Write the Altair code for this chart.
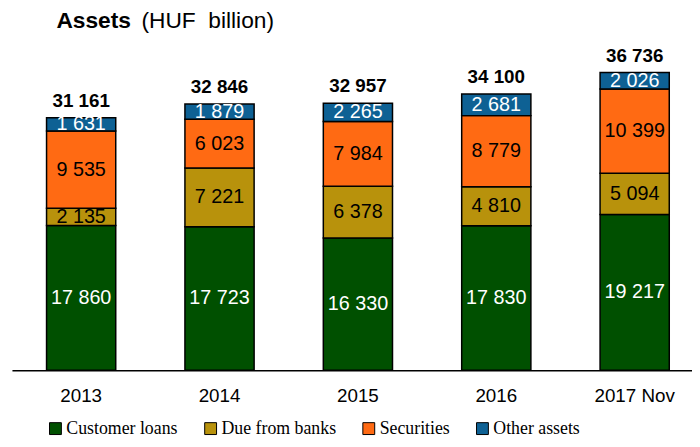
import altair as alt
import pandas as pd

years = ["2013", "2014", "2015", "2016", "2017 Nov"]
categories = ["Customer loans", "Due from banks", "Securities", "Other assets"]
customer_loans = [17860, 17723, 16330, 17830, 19217]
due_from_banks = [2135, 7221, 6378, 4810, 5094]
securities = [9535, 6023, 7984, 8779, 10399]
other_assets = [1631, 1879, 2265, 2681, 2026]
colors = ["#005000", "#B8920C", "#FF6A13", "#0E6194"]

series = [customer_loans, due_from_banks, securities, other_assets]
rows = []
for i, y in enumerate(years):
    for j, c in enumerate(categories):
        rows.append({"year": y, "category": c, "value": series[j][i], "order": j})
df = pd.DataFrame(rows)

xscale = alt.Scale(domain=years, range=[0, 700], paddingInner=0.5, paddingOuter=0.25)
yscale = alt.Scale(domain=[0, 40000], nice=False, zero=True)

base = alt.Chart(df)

bars = base.mark_bar(stroke="black", strokeWidth=1.5).encode(
    x=alt.X("year:N", scale=xscale,
            axis=alt.Axis(title=None, labelAngle=0, ticks=False, domainColor="black",
                          domainWidth=1.5, labelFont="Liberation Sans", labelFontSize=19,
                          labelColor="black", labelPadding=17, grid=False)),
    y=alt.Y("value:Q", stack="zero", scale=yscale, axis=None),
    color=alt.Color("category:N", scale=alt.Scale(domain=categories, range=colors),
                    legend=alt.Legend(title=None, orient="none", legendX=35, legendY=378,
                                      direction="horizontal", symbolType="square",
                                      symbolSize=144, symbolStrokeColor="black",
                                      symbolStrokeWidth=1, symbolOpacity=1,
                                      labelFont="Liberation Serif", labelFontSize=18,
                                      labelColor="black", columnPadding=24, labelOffset=2,
                                      labelLimit=300)),
    order=alt.Order("order:Q"),
)

labels = base.transform_stack(
    stack="value", groupby=["year"], as_=["y0", "y1"],
    sort=[alt.SortField(field="order", order="ascending")]
).transform_calculate(
    mid="(datum.y0 + datum.y1) / 2",
    label="replace(format(datum.value, ','), ',', ' ')"
).mark_text(font="Liberation Sans", fontSize=20, baseline="middle").encode(
    x=alt.X("year:N", scale=xscale),
    y=alt.Y("mid:Q", scale=yscale),
    text="label:N",
    color=alt.condition("datum.category == 'Customer loans' || datum.category == 'Other assets'",
                        alt.value("white"), alt.value("black")),
)

totals = base.transform_aggregate(
    total="sum(value)", groupby=["year"]
).transform_calculate(
    label="replace(format(datum.total, ','), ',', ' ')"
).mark_text(font="Liberation Sans", fontSize=19, fontWeight="bold",
            baseline="alphabetic", dy=-11, color="black").encode(
    x=alt.X("year:N", scale=xscale),
    y=alt.Y("total:Q", scale=yscale),
    text="label:N",
)

title_bold = alt.Chart(pd.DataFrame({"t": ["Assets"]})).mark_text(
    font="Liberation Sans", fontSize=23, fontWeight="bold", align="left",
    baseline="alphabetic", color="black"
).encode(x=alt.value(45), y=alt.value(-18), text="t:N")

title_rest = alt.Chart(pd.DataFrame({"t": ["(HUF\u00a0\u00a0billion)"]})).mark_text(
    font="Liberation Sans", fontSize=23, align="left",
    baseline="alphabetic", color="black"
).encode(x=alt.value(131), y=alt.value(-18), text="t:N")

chart = alt.layer(bars, labels, totals, title_bold, title_rest).properties(
    width=688, height=328,
    padding={"left": 4, "top": 36, "right": 0, "bottom": 67},
    autosize=alt.AutoSizeParams(type="none"),
).configure_view(stroke=None)

chart.save("out.html", embed_options={"renderer": "svg", "actions": False})
